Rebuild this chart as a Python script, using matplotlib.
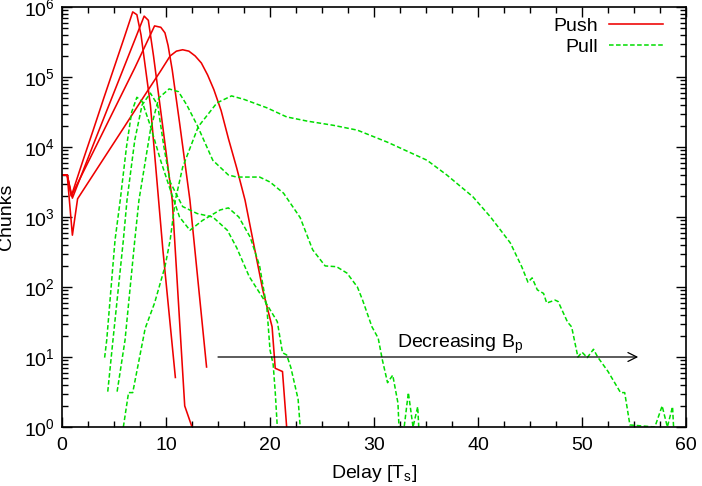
import matplotlib
matplotlib.use("Agg")
import matplotlib.pyplot as plt
from matplotlib.ticker import MultipleLocator, LogLocator, NullFormatter

plt.rcParams['font.family'] = ['Liberation Sans', 'DejaVu Sans']
plt.rcParams['mathtext.fontset'] = 'custom'
plt.rcParams['mathtext.rm'] = 'Liberation Sans'
plt.rcParams['mathtext.it'] = 'Liberation Sans:italic'
plt.rcParams['font.size'] = 14

# push curves (delay in Ts, number of chunks)
push_a_x = [0, 0.5, 0.9, 2, 3, 4, 5, 6, 6.8, 7.2, 7.6, 8.5, 9.7, 10.9]
push_a_y = [4000, 4000, 2000, 6300, 17400, 49000, 135000, 372000, 851000, 776000, 398000, 39800, 340, 5.1]

push_b_x = [0, 0.5, 1.0, 3, 5, 7, 7.9, 8.3, 8.8, 9.7, 10.6, 11.8, 12.5]
push_b_y = [4000, 4000, 1860, 10700, 60300, 339000, 741000, 646000, 200000, 19000, 1740, 2.0, 1]

push_c_x = [0, 0.5, 0.9, 3, 5, 7, 8.9, 9.5, 9.9, 10.2, 10.6, 11.3, 12.3, 13.9]
push_c_y = [4000, 4000, 2000, 8500, 33900, 135000, 537000, 513000, 427000, 282000, 126000,
            22400, 1740, 7.2]

push_d_x = [0, 0.5, 1.0, 1.5, 4, 6, 8, 9.5, 10.4, 11.0, 11.6, 12.2, 12.8, 13.4, 14.0, 14.6,
            15.3, 16.0, 16.8, 17.6, 19.3, 20.2, 20.5, 21.2, 21.6]
push_d_y = [4000, 4000, 550, 1820, 6800, 19500, 56200, 123000, 200000, 234000, 245000,
            234000, 200000, 158500, 107000, 66100, 33100, 13200, 5000, 1740, 91, 27, 6.9,
            6.2, 1]

# pull curves
pull_a_x = [4.1, 4.3, 5.1, 5.6, 6.2, 6.7, 7.2, 7.7, 8.5, 9.5, 10.5, 11.3, 12.3, 13.5, 14.4,
            15.2, 16.0, 17.0, 18.1, 19.0, 19.7, 20.0, 20.3, 20.5, 20.7]
pull_a_y = [9.8, 17.4, 468, 1740, 10000, 31600, 51300, 44700, 20000, 6300, 2240, 1000, 646,
            891, 1070, 1260, 1350, 1000, 513, 200, 50, 12.6, 7.9, 3.2, 1]

pull_b_x = [4.4, 4.9, 5.9, 6.25, 7.0, 7.7, 8.5, 9.2, 9.8, 10.4, 11.6, 13.0, 14.5, 15.9, 16.8,
            18.0, 19.5, 20.7, 21.2, 21.6, 22.0, 22.7, 22.9]
pull_b_y = [3.2, 17.4, 468, 1740, 12600, 39800, 58900, 39800, 10000, 3160, 1410, 1120, 1000,
            646, 363, 141, 63, 32, 11.5, 10.7, 7.1, 2.5, 1]

pull_c_x = [5.3, 6.06, 7.0, 7.4, 8.5, 9.3, 10.3, 11.2, 12.0, 13.0, 14.5, 16.0, 16.8, 19.0,
            20.0, 21.3, 22.9, 24.1, 25.3, 26.4, 27.4, 28.4, 28.9, 29.8, 30.4, 30.8, 31.3,
            31.8, 32.3, 32.4, 32.9, 33.3, 33.75, 34.2, 34.3]
pull_c_y = [3.2, 17.4, 468, 1740, 17400, 50100, 67600, 61700, 39800, 20400, 6460, 3980, 3720,
            3720, 3160, 2190, 980, 340, 200, 195, 158, 100, 65, 27, 18.6, 9.1, 4.3, 5.5, 2.2,
            1, 1, 3.1, 1, 1.95, 1]

pull_d_x = [5.9, 6.4, 6.8, 8.0, 8.9, 9.9, 10.4, 10.9, 11.6, 13.1, 14.9, 16.3, 17.5, 19.7,
            21.6, 23.6, 26.1, 28.4, 31.3, 35.1, 37.0, 39.5, 41.2, 43.1, 44.2, 44.8, 45.2,
            45.7, 46.3, 46.6, 47.4, 47.7, 48.6, 49.0, 49.6, 50.0, 50.5, 51.1, 51.5, 52.5,
            53.7, 54.1, 54.6, 57.0, 57.7, 58.2, 58.7, 58.8]
pull_d_y = [1, 3.1, 3.1, 25.7, 59, 195, 468, 1740, 5130, 19500, 42700, 53700, 47900, 36300,
            26900, 23400, 20400, 17400, 11700, 6460, 3980, 1950, 1000, 427, 195, 117, 135,
            91, 81, 59, 65, 62, 31.6, 26.9, 10, 11.7, 9.8, 12.9, 10, 6.2, 3.1, 3.1, 1.07,
            1, 2.0, 1, 1.95, 1]

push_curves = [(push_a_x, push_a_y), (push_b_x, push_b_y), (push_c_x, push_c_y), (push_d_x, push_d_y)]
pull_curves = [(pull_a_x, pull_a_y), (pull_b_x, pull_b_y), (pull_c_x, pull_c_y), (pull_d_x, pull_d_y)]

red = '#ee0000'
green = '#00dd00'

fig = plt.figure(figsize=(7.02, 4.86), dpi=100)
ax = fig.add_axes([0.0883, 0.1214, 0.889, 0.8642])

for i, (x, y) in enumerate(push_curves):
    ax.plot(x, y, color=red, lw=1.15, label='Push' if i == 0 else None)
for i, (x, y) in enumerate(pull_curves):
    ax.plot(x, y, color=green, lw=1.1, dashes=(3, 1.6), label='Pull' if i == 0 else None)

ax.set_yscale('log')
ax.set_xlim(0, 60)
ax.set_ylim(1, 1e6)
ax.xaxis.set_major_locator(MultipleLocator(10))
ax.xaxis.set_minor_locator(MultipleLocator(2.5))
ax.yaxis.set_major_locator(LogLocator(base=10, numticks=10))
ax.yaxis.set_minor_locator(LogLocator(base=10, subs=range(2, 10), numticks=10))
ax.yaxis.set_minor_formatter(NullFormatter())

ax.tick_params(which='both', direction='in', top=True, right=True, width=1, colors='black')
ax.tick_params(which='major', length=7)
ax.tick_params(which='minor', length=4)
ax.tick_params(axis='x', pad=7)
ax.tick_params(axis='y', pad=5)
for s in ax.spines.values():
    s.set_linewidth(1.2)

ax.set_xlabel('Delay [T$_{\\mathrm{s}}$]', labelpad=7)
ax.set_ylabel('Chunks')
ax.yaxis.set_label_coords(-0.076, 0.5)

# annotation arrow
ax.annotate('', xy=(55.4, 10), xytext=(15.0, 10),
            arrowprops=dict(arrowstyle='->', color='black', lw=0.9, mutation_scale=16,
                            shrinkA=0, shrinkB=0))
ax.text(32.2, 13.5, 'Decreasing B$_{\\mathrm{p}}$', ha='left', va='baseline')

ax.legend(loc='upper right', bbox_to_anchor=(0.963, 0.975), frameon=False,
          markerfirst=False, handlelength=2.8, handletextpad=0.55, labelspacing=0.15,
          borderpad=0, borderaxespad=0)

fig.savefig('out.png', dpi=100)
